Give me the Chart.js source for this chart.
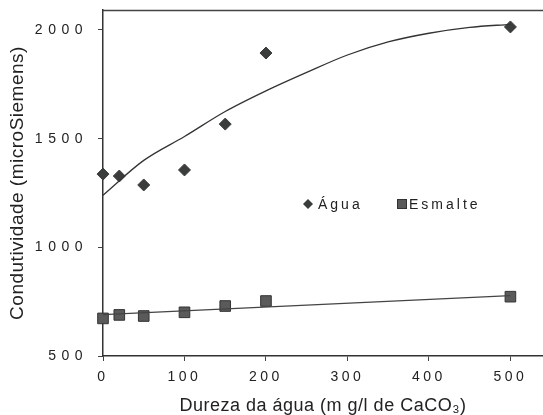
<!DOCTYPE html>
<html>
<head>
<meta charset="utf-8">
<script src="https://cdn.jsdelivr.net/npm/chart.js@4"></script>
<style>
  html, body { margin: 0; padding: 0; background: #fff; }
  #wrap { width: 543px; height: 415px; }
</style>
</head>
<body>
<div id="wrap"><canvas id="chart"></canvas></div>
<script>
// measured points
const dureza = [0, 20, 50, 100, 150, 200, 500];
const agua = [1337, 1328, 1287, 1356, 1567, 1894, 2014];
const esmalte = [673, 689, 684, 701, 730, 753, 773];

// trend lines
const aguaFitX = [0, 50, 100, 150, 200, 250, 300, 350, 400, 450, 500];
const aguaFit = [1240, 1400, 1510, 1625, 1720, 1805, 1885, 1945, 1985, 2012, 2026];
const esmalteFitX = [0, 500];
const esmalteFit = [690, 778];

const seriesNames = ["Água", "Esmalte"];
const xTicks = [0, 100, 200, 300, 400, 500];
const yTicks = [500, 1000, 1500, 2000];

const ink = "#222";
const toXY = (xs, ys) => xs.map((x, i) => ({ x: x, y: ys[i] }));

Chart.defaults.font.family = "'Liberation Sans', Arial, sans-serif";
Chart.defaults.color = ink;

// letter spacing for the scanned-looking tick labels
const spacing = {
  id: "spacing",
  afterLayout(chart) {
    Object.values(chart.scales).forEach(scale => {
      if (scale._spaced) return;
      scale._spaced = true;
      const ls = scale.axis === "y" ? "5.5px" : "3.5px";
      const drawLabels = scale.drawLabels.bind(scale);
      const drawTitle = scale.drawTitle.bind(scale);
      scale.drawLabels = area => {
        chart.ctx.letterSpacing = ls;
        drawLabels(area);
        chart.ctx.letterSpacing = "0px";
      };
      scale.drawTitle = () => {
        chart.ctx.letterSpacing = "0.5px";
        drawTitle();
        chart.ctx.letterSpacing = "0px";
      };
    });
  }
};

// top frame line + legend inside the plot
const extras = {
  id: "extras",
  afterDraw(chart) {
    const { ctx, chartArea } = chart;
    ctx.save();
    ctx.strokeStyle = "#444";
    ctx.lineWidth = 1.5;
    ctx.beginPath();
    ctx.moveTo(chartArea.left, chartArea.top + 0.5);
    ctx.lineTo(chartArea.right, chartArea.top + 0.5);
    ctx.stroke();

    ctx.font = "14px 'Liberation Sans', Arial, sans-serif";
    ctx.letterSpacing = "3px";
    ctx.textBaseline = "middle";
    const ly = 204;
    // diamond
    ctx.fillStyle = "#3a3d3b";
    ctx.beginPath();
    ctx.moveTo(303, ly); ctx.lineTo(308, ly - 5); ctx.lineTo(313, ly); ctx.lineTo(308, ly + 5);
    ctx.closePath();
    ctx.fill();
    ctx.fillStyle = ink;
    ctx.fillText(seriesNames[0], 318, ly + 1);
    // square
    ctx.fillStyle = "#5a5a5a";
    ctx.strokeStyle = "#333";
    ctx.lineWidth = 1;
    ctx.fillRect(397.5, ly - 4.5, 9, 9);
    ctx.strokeRect(397.5, ly - 4.5, 9, 9);
    ctx.fillStyle = ink;
    ctx.fillText(seriesNames[1], 409, ly + 1);
    ctx.restore();
  }
};

new Chart(document.getElementById("chart"), {
  type: "scatter",
  data: {
    datasets: [
      {
        label: seriesNames[0] + " ajuste",
        data: toXY(aguaFitX, aguaFit),
        showLine: true,
        borderColor: "#333",
        borderWidth: 1.3,
        pointRadius: 0,
        cubicInterpolationMode: "monotone",
        clip: false
      },
      {
        label: seriesNames[1] + " ajuste",
        data: toXY(esmalteFitX, esmalteFit),
        showLine: true,
        borderColor: "#444",
        borderWidth: 1.3,
        pointRadius: 0,
        clip: false
      },
      {
        label: seriesNames[0],
        data: toXY(dureza, agua),
        pointStyle: "rectRot",
        pointRadius: 6,
        backgroundColor: "#3a3d3b",
        borderColor: "#3a3d3b",
        borderWidth: 1,
        clip: false
      },
      {
        label: seriesNames[1],
        data: toXY(dureza, esmalte),
        pointStyle: "rect",
        pointRadius: 7.5,
        backgroundColor: "#5a5a5a",
        borderColor: "#333",
        borderWidth: 1,
        clip: false
      }
    ]
  },
  options: {
    responsive: true,
    maintainAspectRatio: false,
    animation: false,
    layout: { autoPadding: false, padding: { top: 10, right: 0, left: 0, bottom: 0 } },
    plugins: {
      legend: { display: false },
      tooltip: { enabled: false }
    },
    scales: {
      x: {
        type: "linear",
        min: 0,
        max: 540,
        afterBuildTicks: s => { s.ticks = xTicks.map(v => ({ value: v })); },
        afterFit: s => { s.height = 59; s.paddingRight = 0; s.paddingLeft = 0; },
        grid: { drawOnChartArea: false, drawTicks: true, tickLength: 5, tickColor: "#444" },
        border: { color: "#333", width: 1.5 },
        ticks: { font: { size: 14 }, padding: 8, color: ink, maxRotation: 0, callback: v => String(v) },
        title: {
          display: true,
          text: "Dureza da água (m g/l de CaCO₃)",
          font: { size: 18, lineHeight: 1 },
          padding: { top: 0, bottom: 0 },
          color: ink
        }
      },
      y: {
        min: 500,
        max: 2092,
        afterBuildTicks: s => { s.ticks = yTicks.map(v => ({ value: v })); },
        afterFit: s => { s.width = 103; s.paddingTop = 0; s.paddingBottom = 0; },
        grid: { drawOnChartArea: false, drawTicks: true, tickLength: 5, tickColor: "#444" },
        border: { color: "#333", width: 1.5 },
        ticks: { font: { size: 14 }, padding: 10, color: ink, callback: v => String(v) },
        title: {
          display: true,
          text: "Condutividade (microSiemens)",
          font: { size: 19, lineHeight: 1 },
          padding: { top: 8, bottom: 0 },
          color: ink
        }
      }
    }
  },
  plugins: [spacing, extras]
});
</script>
</body>
</html>
